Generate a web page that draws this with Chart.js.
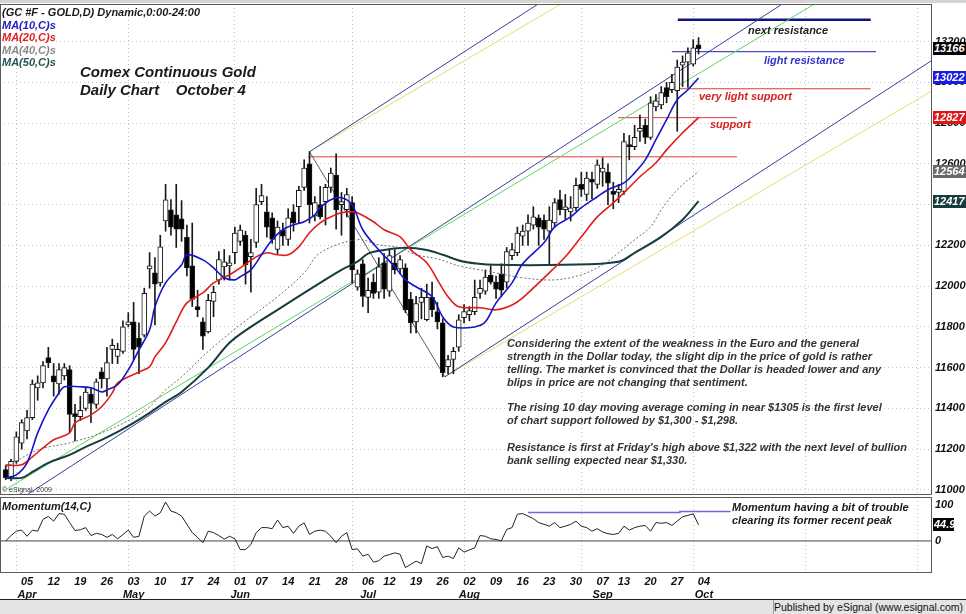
<!DOCTYPE html>
<html><head><meta charset="utf-8">
<script src="https://cdn.jsdelivr.net/npm/chart.js@4.4.0/dist/chart.umd.min.js"></script>
<style>
html,body{margin:0;padding:0;background:#fff;}
body{width:966px;height:614px;position:relative;overflow:hidden;font-family:'Liberation Sans',Arial,sans-serif;}
canvas{position:absolute;left:0;}
#c1{top:0;}
#c2{top:496px;}
.t{position:absolute;white-space:pre;font-weight:bold;font-style:italic;font-size:11px;line-height:13px;color:#1a1a1a;}
.vb{position:absolute;left:933px;height:13px;line-height:13px;color:#fff;font-weight:bold;font-style:italic;font-size:11px;padding-left:1px;box-sizing:border-box;}
#topband{position:absolute;left:0;top:0;width:966px;height:3px;background:#d4d4d4;}
#footer{position:absolute;left:0;top:599px;width:966px;height:15px;background:#e4e4e4;border-top:1px solid #222;box-sizing:border-box;}
#pub{position:absolute;left:773px;top:0;width:193px;height:14px;border-left:1px solid #9a9a9a;box-sizing:border-box;font-size:10.5px;line-height:14px;color:#111;text-align:right;padding-right:5px;white-space:nowrap;}
</style></head><body>
<div id="topband"></div>
<canvas id="c1" width="966" height="497"></canvas>
<canvas id="c2" width="966" height="104"></canvas>

<div class="t" style="left:2px;top:6px;">(GC #F - GOLD,D) Dynamic,0:00-24:00</div>
<div class="t" style="left:2px;top:19px;color:#2020c0;">MA(10,C)s</div>
<div class="t" style="left:2px;top:31px;color:#e02020;">MA(20,C)s</div>
<div class="t" style="left:2px;top:44px;color:#8a8a8a;">MA(40,C)s</div>
<div class="t" style="left:2px;top:56px;color:#1f5555;">MA(50,C)s</div>
<div class="t" style="left:80px;top:63px;font-size:15px;line-height:17px;">Comex Continuous Gold</div>
<div class="t" style="left:80px;top:81px;font-size:15px;line-height:17px;">Daily Chart    October 4</div>

<div class="t" style="left:748px;top:24px;color:#222;">next resistance</div>
<div class="t" style="left:764px;top:54px;color:#3434c8;">light resistance</div>
<div class="t" style="left:699px;top:90px;color:#d82020;">very light support</div>
<div class="t" style="left:710px;top:118px;color:#d82020;">support</div>

<div class="t" style="left:507px;top:337px;color:#333;">Considering the extent of the weakness in the Euro and the general
strength in the Dollar today, the slight dip in the price of gold is rather
telling. The market is convinced that the Dollar is headed lower and any
blips in price are not changing that sentiment.</div>
<div class="t" style="left:507px;top:401px;color:#333;">The rising 10 day moving average coming in near $1305 is the first level
of chart support followed by $1,300 - $1,298.</div>
<div class="t" style="left:507px;top:441px;color:#333;">Resistance is first at Friday's high above $1,322 with the next level of bullion
bank selling expected near $1,330.</div>

<div style="position:absolute;left:2px;top:486px;font-size:7px;line-height:8px;color:#333;">© eSignal, 2009</div>
<div class="t" style="left:2px;top:500px;">Momentum(14,C)</div>
<div class="t" style="left:732px;top:501px;">Momentum having a bit of trouble
clearing its former recent peak</div>

<div id="footer"><div id="pub">Published by eSignal (www.esignal.com)</div></div>

<script>
// ---------- DATA ----------
// trading-day index 0 = Mar 29 2010 ... 130 = Oct 1 2010
const openP = [11100,11060,11140,11230,11290,11355,11500,11525,11650,11560,
11520,11560,11590,11375,11360,11400,11470,11420,11580,11545,
11690,11655,11680,11810,11825,11745,11760,12085,12065,12016,
12320,12375,12350,12330,12240,12100,11900,11825,11775,11925,
12030,12095,12100,12165,12220,12250,12145,12215,12415,12365,
12335,12180,12275,12230,12365,12390,12485,12600,12345,12400,
12415,12485,12545,12400,12375,12410,11995,12110,11945,12020,
11970,12115,11975,12115,12085,12090,11935,11825,11920,11835,
11945,11875,11820,11605,11640,11700,11845,11860,11875,11965,
11975,12055,12020,12060,12020,12150,12165,12245,12270,12300,
12335,12325,12270,12310,12425,12375,12365,12385,12500,12450,
12525,12500,12560,12560,12465,12460,12465,12695,12685,12760,
12790,12730,12880,12890,12975,12965,12960,13085,13100,13090,13185];
const highP = [11120,11150,11285,11345,11390,11540,11560,11630,11700,11620,
11620,11620,11610,11420,11460,11500,11500,11545,11600,11700,
11740,11720,11830,11870,11920,11820,11990,12165,12140,12250,
12500,12425,12500,12420,12300,12310,11980,11845,11960,12000,
12170,12180,12150,12290,12300,12270,12230,12480,12500,12440,
12360,12320,12310,12380,12400,12490,12620,12660,12440,12490,
12500,12580,12650,12460,12480,12440,12080,12130,12040,12060,
12140,12160,12180,12180,12150,12110,11970,11950,11990,12010,
12020,11920,11840,11660,11700,11860,11910,11900,12030,12030,
12080,12100,12050,12110,12190,12210,12290,12300,12350,12390,
12350,12350,12390,12430,12470,12450,12440,12530,12560,12560,
12560,12620,12630,12600,12510,12500,12750,12740,12790,12840,
12820,12930,12940,12980,13000,13040,13110,13130,13170,13210,13220];
const lowP = [11050,11045,11130,11200,11250,11345,11440,11500,11600,11460,
11470,11540,11280,11240,11340,11390,11330,11400,11500,11460,
11620,11620,11670,11800,11640,11570,11750,11990,11810,12000,
12270,12250,12190,12220,12050,11900,11850,11690,11770,11850,
12010,12030,12030,12110,12200,12010,11970,12190,12400,12240,
12210,12160,12200,12200,12270,12310,12470,12310,12320,12330,
12300,12460,12280,12250,12340,12016,11980,11900,11870,11940,
11940,11940,11950,12060,12060,11870,11770,11770,11840,11830,
11850,11790,11555,11570,11570,11680,11820,11830,11860,11940,
11960,12010,11940,11950,11990,12130,12150,12200,12200,12280,
12200,12230,12110,12290,12350,12330,12320,12370,12440,12420,
12430,12480,12490,12400,12380,12410,12450,12620,12670,12710,
12700,12720,12860,12870,12900,12950,12760,12980,12975,13080,13140];
const closeP = [11060,11140,11260,11330,11355,11520,11525,11610,11625,11530,
11590,11600,11370,11360,11390,11480,11425,11530,11545,11625,
11710,11690,11800,11825,11690,11700,11965,12100,12010,12193,
12424,12290,12280,12280,12090,11935,11885,11755,11930,11970,
12130,12120,12115,12260,12275,12105,12165,12400,12445,12290,
12230,12290,12245,12335,12310,12470,12580,12400,12410,12340,
12485,12555,12375,12415,12450,12080,12060,11950,11980,11965,
12095,11985,12150,12080,12130,11885,11820,11915,11945,11945,
11885,11825,11575,11640,11680,11835,11875,11880,11945,11990,
12045,12020,11985,11980,12170,12180,12260,12270,12310,12340,
12290,12280,12325,12410,12375,12390,12385,12495,12475,12530,
12510,12595,12580,12505,12450,12475,12710,12685,12730,12775,
12730,12900,12910,12950,12930,13000,13075,13100,13145,13170,13166];

const ma10Days = [0,2,4,6,8,10,11,14,16,18,19,21,23,25,27,28,30,33,34,37,39,41,43,44,46,48,50,52,54,56,58,59,61,63,65,67,70,73,75,77,80,82,84,88,90,92,95,97,101,103,106,108,111,113,116,118,120,122,124,126,128,130];
const ma10 = [11059,11074,11133,11280,11393,11476,11506,11506,11501,11481,11491,11516,11589,11687,11786,11899,12016,12105,12154,12129,12090,12041,12031,12046,12080,12154,12228,12277,12301,12316,12350,12385,12424,12434,12399,12277,12178,12095,12031,11997,11948,11849,11800,11800,11825,11918,12016,12110,12213,12291,12340,12385,12439,12473,12507,12556,12620,12719,12817,12915,12964,13022];
const ma20Days = [0,3,5,7,9,12,13,16,18,20,21,25,27,28,30,32,34,37,39,42,44,47,49,51,53,55,57,59,61,63,65,66,69,71,74,76,79,81,83,85,89,92,95,97,101,105,108,111,114,116,119,122,124,127,130];
const ma20 = [11123,11123,11162,11206,11246,11280,11329,11368,11408,11476,11525,11579,11604,11653,11722,11825,11918,11967,12016,12056,12090,12144,12164,12154,12154,12193,12262,12311,12340,12360,12365,12360,12316,12277,12242,12178,12115,12031,11948,11899,11894,11884,11908,11943,12041,12144,12242,12340,12409,12458,12537,12606,12669,12753,12827];
const ma40Days = [0,6,12,18,24,27,30,33,38,44,51,56,59,66,70,74,77,81,85,89,92,97,103,108,112,115,118,121,123,126,130];
const ma40 = [11110,11196,11231,11280,11354,11408,11491,11555,11680,11810,11948,12065,12164,12228,12203,12188,12154,12134,12100,12080,12065,12041,12031,12056,12105,12164,12228,12291,12375,12473,12564];
const ma50Days = [0,3,5,8,12,15,18,21,24,27,30,33,38,42,46,51,56,59,63,66,68,71,75,79,82,86,92,105,115,118,123,127,130];
const ma50 = [11059,11059,11088,11133,11172,11211,11246,11285,11329,11378,11432,11481,11600,11722,11800,11884,11967,12016,12080,12120,12160,12178,12188,12178,12154,12120,12105,12105,12120,12164,12242,12326,12417];

const momentum = [0,15,27,30,13,30,27,60,68,55,
76,74,51,29,31,37,15,21,18,10,
18,6,18,30,10,13,69,83,69,78,
108,83,78,69,46,23,10,-5,27,23,
15,5,13,6,-24,-24,-10,23,37,37,
34,58,37,41,21,41,50,18,27,30,
27,13,-5,13,23,-24,-22,-42,-37,-59,
-55,-42,-38,-33,-37,-74,-65,-56,-63,-14,
-21,-16,-46,-42,-49,-19,-31,-25,-19,15,
13,6,4,0,32,37,74,76,69,62,
51,46,41,51,37,41,46,55,41,37,
27,34,25,20,18,21,41,30,37,41,
43,27,51,49,51,43,55,67,71,75,44.9];

// momentum "former peak" line: [day, value]
const momPeakDays = [98,126.5,126.5,136];
const momPeakVals = [79,79,82,82];

// pitchfork / trend lines: start day, start price, end day, end price
const trendStartDay = [57, 57, 57, 0, -0.1, 82.4, 82.4];
const trendStartVal = [12660, 12660, 12660, 10908, 11000, 11555, 11555];
const trendEndDay   = [82.4, 117, 117, 175, 175, 175, 175];
const trendEndVal   = [11555, 13674, 13582, 13883, 13750, 13129, 12977];

// horizontal support / resistance levels
const levelPrice = [12635, 12827, 12969, 13151, 13308];
const levelFrom  = [56.7, 114.9, 126.5, 125, 126.1];
const levelTo    = [137.2, 137.2, 162.3, 163.3, 162.3];

// axis ticks
const priceTicks = [11000,11200,11400,11600,11800,12000,12200,12400,12600,12800,13000,13200];
const momTicks = [0,100];
const weekTickDays = [4,9,14,19,24,29,34,39,44,48,53,58,63,68,72,77,82,87,92,97,102,107,112,116,121,126,131];
const weekTickLabels = ['05','12','19','26','03','10','17','24','01','07','14','21','28','06','12','19','26','02','09','16','23','30','07','13','20','27','04'];
const weekMonths = ['Apr','','','','May','','','','Jun','','','','','Jul','','','','Aug','','','','','Sep','','','','Oct'];
const monthEndDays = [2,23,43,65,86,108,129,150,171];

// ---------- CHART ----------
const X_MIN = -1.07, X_MAX = 173.8;
const FONT = "'Liberation Sans', Arial, sans-serif";
const tickFont = {family: FONT, size: 11, weight: 'bold', style: 'italic'};
const toXY = (days, vals) => days.map((d, k) => ({x: d, y: vals[k]}));
const dayIdx = closeP.map((_, i) => i);

const panelBorder = {
  id: 'panelBorder',
  afterDraw(chart) {
    const {ctx, chartArea: a} = chart;
    ctx.save();
    ctx.strokeStyle = '#5a5a5a';
    ctx.lineWidth = 1;
    ctx.strokeRect(a.left + 0.5, a.top + 0.5, a.right - a.left - 1, a.bottom - a.top - 1);
    ctx.restore();
  }
};

function noPad(s) { s.paddingTop = 0; s.paddingBottom = 0; s.paddingLeft = 0; s.paddingRight = 0; }

function monthGridScale() {
  return {
    type: 'linear', min: X_MIN, max: X_MAX, offset: false, position: 'bottom',
    afterBuildTicks: s => { s.ticks = monthEndDays.map(v => ({value: v})); },
    afterFit: s => { s.height = 0; noPad(s); },
    ticks: {display: false},
    grid: {color: '#bdbdbd', lineWidth: 1, drawTicks: false, offset: false},
    border: {display: false, dash: [1, 3]}
  };
}

const trendColors = ['#555577', '#3d3d99', '#e3dc74', '#3d3d99', '#5fd35f', '#3d3d99', '#e3dc74'];
const levelColors = ['#e03a3a', '#e03a3a', '#e03a3a', '#4a4ad0', '#141480'];
const levelWidths = [1, 1, 1, 1.3, 2.5];

const datasets = [];
// moving averages
datasets.push({type: 'line', data: toXY(ma10Days, ma10), borderColor: '#1515c8', borderWidth: 1.6, pointRadius: 0, tension: 0.35, order: 0});
datasets.push({type: 'line', data: toXY(ma20Days, ma20), borderColor: '#e01c1c', borderWidth: 1.6, pointRadius: 0, tension: 0.35, order: 0});
datasets.push({type: 'line', data: toXY(ma40Days, ma40), borderColor: '#6e6e6e', borderWidth: 1, borderDash: [2, 2], pointRadius: 0, tension: 0.35, order: 0});
datasets.push({type: 'line', data: toXY(ma50Days, ma50), borderColor: '#173c3c', borderWidth: 2, pointRadius: 0, tension: 0.35, order: 0});
// candle bodies
datasets.push({type: 'bar', data: dayIdx.map(i => ({x: i, y: [openP[i], closeP[i]]})),
  backgroundColor: dayIdx.map(i => closeP[i] >= openP[i] ? '#ffffff' : '#000000'),
  borderColor: '#1a1a1a', borderWidth: 1, borderSkipped: false, barThickness: 5, minBarLength: 1, grouped: false, order: 1});
// wicks
datasets.push({type: 'bar', data: dayIdx.map(i => ({x: i, y: [lowP[i], highP[i]]})),
  backgroundColor: '#1a1a1a', borderWidth: 0, barThickness: 1, grouped: false, order: 2});
// trend lines
trendStartDay.forEach((d, k) => {
  datasets.push({type: 'line', data: [{x: d, y: trendStartVal[k]}, {x: trendEndDay[k], y: trendEndVal[k]}],
    borderColor: trendColors[k], borderWidth: 1, pointRadius: 0, order: 3});
});
levelPrice.forEach((p, k) => {
  datasets.push({type: 'line', data: [{x: levelFrom[k], y: p}, {x: levelTo[k], y: p}],
    borderColor: levelColors[k], borderWidth: levelWidths[k], pointRadius: 0, order: 3});
});

const priceChart = new Chart(document.getElementById('c1'), {
  type: 'line',
  data: {datasets},
  options: {
    responsive: false, animation: false, events: [],
    layout: {padding: {top: 4, bottom: 2, left: 0, right: 0}},
    plugins: {legend: {display: false}, tooltip: {enabled: false}},
    scales: {
      x: {type: 'linear', min: X_MIN, max: X_MAX, offset: false, display: false},
      xg: monthGridScale(),
      y: {
        type: 'linear', position: 'right', min: 10975, max: 13385,
        afterBuildTicks: s => { s.ticks = priceTicks.map(v => ({value: v})); },
        afterFit: s => { s.width = 34; noPad(s); },
        ticks: {padding: 3, color: '#111', font: tickFont, callback: v => String(v)},
        grid: {color: '#c4c4c4', drawTicks: false},
        border: {display: false, dash: [1, 3]}
      }
    }
  },
  plugins: [panelBorder]
});

const momChart = new Chart(document.getElementById('c2'), {
  type: 'line',
  data: {datasets: [
    {data: momentum.map((v, i) => ({x: i, y: v})), borderColor: '#222', borderWidth: 1, pointRadius: 0, order: 0},
    {data: [{x: X_MIN, y: 0}, {x: X_MAX, y: 0}], borderColor: '#444', borderWidth: 1, pointRadius: 0, order: 1},
    {data: toXY(momPeakDays, momPeakVals), borderColor: '#6a6ad8', borderWidth: 1.5, pointRadius: 0, order: 1}
  ]},
  options: {
    responsive: false, animation: false, events: [],
    layout: {padding: {top: 1, bottom: 0, left: 0, right: 0}},
    plugins: {legend: {display: false}, tooltip: {enabled: false}},
    scales: {
      x: {
        type: 'linear', min: X_MIN, max: X_MAX, offset: false, position: 'bottom',
        afterBuildTicks: s => { s.ticks = weekTickDays.map(v => ({value: v})); },
        afterFit: s => { s.height = 27; noPad(s); },
        ticks: {autoSkip: false, maxRotation: 0, minRotation: 0, padding: 3, color: '#111',
          font: Object.assign({}, tickFont, {lineHeight: 1.15}),
          callback: v => { const k = weekTickDays.indexOf(v); if (k < 0) return ''; return weekMonths[k] ? [weekTickLabels[k], weekMonths[k]] : weekTickLabels[k]; }},
        grid: {display: false, drawTicks: false},
        border: {display: false}
      },
      xg: monthGridScale(),
      y: {
        type: 'linear', position: 'right', min: -89, max: 122,
        afterBuildTicks: s => { s.ticks = momTicks.map(v => ({value: v})); },
        afterFit: s => { s.width = 34; noPad(s); },
        ticks: {padding: 3, color: '#111', font: tickFont},
        grid: {display: false, drawTicks: false},
        border: {display: false}
      }
    }
  },
  plugins: [panelBorder]
});

// value flags on the right axis
function valueBox(chart, canvasTop, value, bg, width) {
  const y = chart.scales.y.getPixelForValue(value) + canvasTop;
  const d = document.createElement('div');
  d.className = 'vb';
  d.style.top = (y - 6.5) + 'px';
  d.style.background = bg;
  d.style.width = width + 'px';
  d.textContent = String(value);
  document.body.appendChild(d);
}
valueBox(priceChart, 0, closeP[closeP.length - 1], '#050505', 33);
valueBox(priceChart, 0, ma10[ma10.length - 1], '#1c1ce0', 33);
valueBox(priceChart, 0, ma20[ma20.length - 1], '#e01414', 33);
valueBox(priceChart, 0, ma40[ma40.length - 1], '#6a6a6a', 33);
valueBox(priceChart, 0, ma50[ma50.length - 1], '#173c3c', 33);
valueBox(momChart, 496, momentum[momentum.length - 1], '#050505', 21);
</script>
</body></html>
